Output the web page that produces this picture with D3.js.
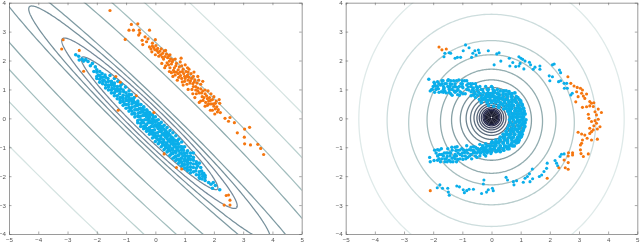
<!DOCTYPE html>
<html><head><meta charset="utf-8">
<script src="https://cdnjs.cloudflare.com/ajax/libs/d3/7.8.5/d3.min.js"></script>
<style>html,body{margin:0;padding:0;background:#fff}svg{display:block;filter:blur(.4px)}</style>
</head><body><svg id="c" width="640" height="245"></svg>
<script>
const xTicks=[-5,-4,-3,-2,-1,0,1,2,3,4,5];
const yTicks=[-4,-3,-2,-1,0,1,2,3,4];
// contours: [semi-major, semi-minor, colour]
const leftContours=[[3.25,.40,"#74899a"],[4.17,.53,"#74899a"],[5.75,.65,"#76909b"],[8,.78,"#7f9ba3"],[11,1.56,"#8eabae"],[14,2.16,"#a3bebe"],[18,2.9,"#bcd2d0"],[24,3.95,"#d6e4e2"]];
// contours: [rx, ry, cy, colour]
const rightContours=[[4.55,5,-.03,"#dfeae9"],[3.58,3.67,-.07,"#cddddd"],[2.84,2.84,-.15,"#b7cccc"],[2.21,2.25,-.05,"#a5bdbe"],[1.75,1.8,-.1,"#93adb0"],[1.37,1.39,-.06,"#86a0a5"],[1.07,1.1,-.03,"#7b929a"],[.87,.88,0,"#6f8490"],[.72,.73,0,"#677a88"],[.6,.6,0.01,"#5f6f80"],[.5,.5,.01,"#566478"],[.42,.42,.02,"#4d5870"],[.35,.35,.02,"#3f4763"],[.29,.29,.03,"#2c3050"],[.25,.25,.03,"#23264a"],[.21,.21,.03,"#1f2238"],[.17,.17,.03,"#1a1c30"],[.13,.13,.03,"#14162a"],[.09,.09,.03,"#14162a"],[.05,.05,.03,"#14162a"]];
const leftOrange=[[-1.55,3.73],[-.82,3.25],[-.6,3.27],[-.9,3.05],[-.75,3.05],[-.55,3.05],[-.2,3.05],[-.53,2.95],[-.57,2.88],[-1.03,2.73],[-.35,2.82],[-.3,2.65],[-.25,2.75],[-.45,2.7],[-.43,2.55],[-.2,2.47],[.0,2.72],[-.1,2.6],[-.05,2.45],[.02,2.52],[.05,2.35],[-.12,2.3],[-.15,2.4],[.0,2.2],[.1,2.28],[.2,2.4],[.25,2.25],[.3,2.33],[.12,2.15],[.38,2.22],[.42,2.1],[.28,2.05],[.4,1.92],[.48,1.98],[.55,1.88],[.6,2.02],[.35,1.82],[.5,1.75],[.65,1.75],[.72,1.9],[.88,2.08],[.78,1.68],[.9,1.82],[1.02,1.85],[.55,1.58],[.65,1.6],[.78,1.55],[.85,1.6],[.95,1.7],[1.05,1.62],[1.1,1.75],[1.1,1.5],[.8,1.42],[.9,1.38],[1.0,1.45],[1.15,1.42],[1.22,1.55],[1.3,1.45],[1.0,1.28],[1.08,1.18],[1.2,1.3],[1.28,1.2],[1.35,1.33],[1.25,1.0],[1.38,1.1],[1.48,1.32],[1.55,1.18],[1.45,.95],[1.55,1.02],[1.4,.85],[1.62,.95],[1.7,.85],[1.75,.78],[1.6,.75],[1.85,.72],[1.5,.55],[1.63,.62],[1.72,.55],[1.82,.6],[1.95,.65],[2.08,.6],[2.18,.65],[1.78,.45],[1.9,.5],[2.0,.42],[2.1,.4],[2.2,.52],[1.95,.28],[2.05,.33],[2.15,.3],[2.03,.15],[2.22,.2],[2.38,.0],[2.5,-.1],[2.55,.03],[2.7,-.15],[2.8,-.5],[3.05,-.37],[3.22,-.31],[3.04,-.65],[3.05,-.88],[3.25,-.92],[3.5,-.9],[3.6,-1.04],[3.7,-1.25],
[-.1,2.5],[-.02,2.38],[.08,2.42],[.15,2.32],[.18,2.2],[.24,2.12],[.33,2.14],[.46,2.16],[.52,2.06],[.45,1.85],[.58,1.96],[.62,1.66],[.7,1.82],[.72,1.6],[.82,1.78],[.86,1.48],[.92,1.62],[.97,1.55],[1.02,1.38],[1.08,1.45],[1.12,1.6],[1.18,1.22],[1.24,1.38],[1.3,1.1],[1.33,1.26],[1.42,1.22],[1.45,1.05],[1.5,.88],[1.58,.88],[1.66,.72],[1.7,.98],[1.78,.68],[1.82,.5],[1.88,.62],[1.98,.5],[2.05,.52],[2.12,.22],[.68,1.5],[.92,1.26],[1.12,1.32],[1.38,.98],
[.35,2.35],[.5,2.2],[.68,2.05],[.85,1.95],[1.15,1.7],[1.32,1.6],[1.45,1.45],[1.62,1.28],[1.8,.95],[2.0,.75],[1.9,.85],[.22,1.9],[.32,1.75],[.48,1.62],[.6,1.45],[.75,1.32],[.95,1.15],[1.12,1.0],[1.28,.85],[1.35,.72],[1.55,.6],[1.7,.42],[1.88,.28]];
const leftOrangeInner=[[-3.15,2.72],[-3.2,2.4],[-2.6,2.35],[-2.45,1.63],[-1.35,1.45],[-1.2,1.25],[-.65,.78],[-1.27,.28],[-.05,.2],[.3,-1.23],[.72,-1.7],[.9,-1.75],[2.5,-2.65],[2.42,-2.67],[2.55,-2.83],[2.35,-3],[2.55,-3]];
const leftBlue=[[-2.72,2.2],[-2.62,2.15],[-2.6,2.02],[-2.5,2.05],[-2.45,1.98],[-2.38,2.03],[-2.3,1.97],[-2.22,1.82],[-2.15,1.9],[-2.05,1.78],[-2.1,1.62],[-2.0,1.68],[-1.95,1.5],[-1.9,1.62],[-1.85,1.42],[-1.82,1.55],[-1.75,1.32],[-1.72,1.5],[-1.68,1.25],[-1.62,1.38],[-1.6,1.15],[-1.55,1.48],[-1.5,1.28],[-1.48,1.05],[-1.42,1.18],[-1.4,1.38],[-1.35,.95],[-1.3,1.1],[-1.28,1.28],[-1.22,.85],[-1.18,1.02],[-1.15,1.18],[-1.12,.72],[-1.08,.92],[-1.02,1.08],[-1.0,.62],[-.98,.78],[-.92,.48],[-.9,.95],[-.88,.65],[-.82,.82],[-.8,.38],[-.76,.55],[-.72,.72],[-.7,.3],[-.66,.44],[-.6,.6],[-.58,.18],[-.55,.34],[-.5,.48],[-.48,.08],[-.44,.22],[-.4,.38],[-.36,-.05],[-.33,.1],[-.28,.26],[-.25,-.15],[-.22,.0],[-.18,.16],[-.14,-.28],[-.11,-.12],[-.06,.04],[-.03,-.4],[0,-.24],[.04,-.08],[.07,-.5],[.1,-.36],[.14,-.2],[.18,-.62],[.2,-.46],[.25,-.3],[.28,-.74],[.3,-.58],[.35,-.42],[.38,-.85],[.4,-.7],[.45,-.52],[.48,-.96],[.5,-.8],[.55,-.65],[.58,-1.05],[.6,-.9],[.65,-.75],[.68,-1.15],[.7,-1.0],[.76,-.88],[.78,-1.28],[.8,-1.12],[.86,-.98],[.88,-1.38],[.9,-1.22],[.96,-1.1],[1.0,-1.48],[1.02,-1.32],[1.08,-1.2],[1.1,-1.6],[1.12,-1.42],[1.2,-1.3],[1.2,-1.55],[1.3,-1.45],[1.3,-1.7],[1.4,-1.5],[1.38,-1.82],[1.45,-1.65],[1.5,-1.95],[1.55,-1.7],[1.58,-1.82],[1.52,-2.08],[1.62,-2.0],[1.65,-1.9],[1.7,-2.15],[1.82,-2.22],[1.9,-2.28],[1.98,-2.22],[1.95,-2.42],[2.05,-2.32],[2.2,-2.47],
[-1.4,1.02],[-1.25,.98],[-1.1,.8],[-.95,.62],[-.8,.6],[-.65,.3],[-.52,.2],[-.4,.1],[-.28,-.05],[-.18,-.15],[-.06,-.28],[.05,-.3],[.15,-.45],[.24,-.55],[.34,-.64],[.44,-.78],[.54,-.88],[.64,-.98],[.74,-1.08],[.84,-1.2],[.94,-1.3],[1.06,-1.44],[-1.2,.72],[-1.05,.5],[-.85,.32],[-.72,.18],[-.58,.06],[-.45,-.08],[-.32,-.22],[-.2,-.38],[-.08,-.5],[.03,-.62],[.15,-.72],[.25,-.85],[.36,-.97],[.46,-1.08],[.58,-1.2],[.7,-1.3],[.82,-1.45],[.92,-1.58],[-.9,.82],[-.75,.62],[-.62,.48],[-.48,.32],[-.34,.18],[-.2,.05],[-.08,-.08],[.08,-.22],[.2,-.35],[.32,-.5],[.42,-.62],[.55,-.75],[.66,-.88],[.78,-.98],[.9,-1.1],[1.0,-1.22],[1.14,-1.34]];
const leftBlueDense=[[-2,1.38],[-2,1.6],[-2,1.45],[-1.9,1.25],[-1.9,1.48],[-1.9,1.35],[-1.8,1.2],[-1.8,1.42],[-1.8,1.3],[-1.7,1.05],[-1.7,1.15],[-1.7,1.42],[-1.6,.98],[-1.6,1.08],[-1.6,1.28],[-1.5,.88],[-1.5,.98],[-1.5,1.15],[-1.5,1.22],[-1.4,.78],[-1.4,.88],[-1.4,1.12],[-1.4,1.22],[-1.3,.68],[-1.3,.78],[-1.3,.95],[-1.3,1.02],[-1.2,.55],[-1.2,.62],[-1.2,.92],[-1.2,1.12],[-1.1,.45],[-1.1,.58],[-1.1,.68],[-1.1,.98],[-1,.35],[-1,.48],[-1,.7],[-1,.88],[-.9,.25],[-.9,.38],[-.9,.58],[-.9,.72],[-.8,.15],[-.8,.25],[-.8,.5],[-.8,.68],[-.7,.05],[-.7,.15],[-.7,.42],[-.7,.55],[-.6,-.08],[-.6,.08],[-.6,.3],[-.6,.45],[-.5,-.18],[-.5,-.05],[-.5,.22],[-.5,.35],[-.4,-.28],[-.4,-.15],[-.4,.12],[-.4,.28],[-.3,-.35],[-.3,-.22],[-.3,.05],[-.3,.18],[-.2,-.45],[-.2,-.32],[-.2,-.08],[-.2,.06],[-.1,-.55],[-.1,-.42],[-.1,-.18],[-.1,-.02],[0,-.65],[0,-.52],[0,-.22],[0,-.12],[.1,-.75],[.1,-.6],[.1,-.32],[.1,-.18],[.2,-.82],[.2,-.7],[.2,-.42],[.2,-.28],[.3,-.92],[.3,-.82],[.3,-.52],[.3,-.38],[.4,-1.02],[.4,-.9],[.4,-.6],[.4,-.48],[.5,-1.12],[.5,-1],[.5,-.72],[.5,-.58],[.6,-1.22],[.6,-1.1],[.6,-.82],[.6,-.68],[.7,-1.32],[.7,-1.18],[.7,-.9],[.7,-.78],[.8,-1.42],[.8,-1.28],[.8,-1],[.8,-.88],[.9,-1.5],[.9,-1.38],[.9,-1.08],[.9,-.98],[1,-1.6],[1,-1.42],[1,-1.2],[1.1,-1.7],[1.1,-1.52],[1.1,-1.3],[1.2,-1.78],[1.2,-1.68],[1.2,-1.42],[1.2,-1.2],[1.3,-1.85],[1.3,-1.58],[1.3,-1.35],[1.4,-1.95],[1.4,-1.72],[1.4,-1.58],[1.5,-2.05],[1.5,-1.85],[1.5,-1.55],[1.6,-2.1],[1.6,-1.92],[1.7,-1.98],[1.7,-2.05],
[-.6,-.15],[-.6,.55],[-.5,-.28],[-.5,.48],[-.4,-.36],[-.4,.4],[-.3,-.45],[-.3,.3],[-.2,-.55],[-.2,.2],[-.1,-.68],[-.1,.12],[0,-.8],[0,.05],[.1,-.88],[.1,-.05],[.2,-.98],[.2,-.14],[.3,-1.08],[.3,-.24],[.4,-1.16],[.4,-.32],[.5,-1.28],[.5,-.42],[.6,-1.38],[.6,-.5],[.7,-1.46],[.7,-.6],[.8,-1.55],[.8,-.72],[.9,-1.65],[.9,-.82],[1,-1.72],[1,-.98],[1.1,-1.8],[1.1,-1.12],[1.2,-1.88],[1.3,-1.2],
[-.55,.05],[-.45,-.15],[-.35,-.28],[-.25,-.38],[-.15,-.48],[-.05,-.6],[.05,-.7],[.15,-.82],[.25,-.92],[.35,-1.02],[.45,-1.12],[.55,-1.22],[.65,-1.35],[.75,-1.42],[.85,-1.5],[.95,-1.62],[1.05,-1.72],[-.45,.3],[-.25,.1],[-.05,-.08],[.15,-.28],[.35,-.55],[.55,-.68],[.75,-.78],[.95,-1.0]];
const rightOrange=[[-1.8,2.47],[-1.7,2.37],[-1.55,2.4],[-2.1,-2.5],[2.62,1.44],[2.72,1.21],[2.83,1.12],[2.94,1.07],[3.05,1.04],[3.12,.98],[2.92,.92],[3.09,.87],[3.26,.84],[2.97,.75],[3.15,.77],[3.2,.69],[2.89,.57],[3.12,.38],[3.26,.4],[3.37,.58],[3.43,.52],[3.51,.54],[3.37,.43],[3.49,.41],[3.66,.32],[3.55,.23],[3.77,.2],[3.32,.14],[3.34,0],[3.6,.12],[3.66,-.03],[3.55,-.08],[3.43,-.11],[3.6,-.17],[3.51,-.26],[3.72,-.29],[3.63,-.37],[3.37,-.34],[3.49,-.4],[3.43,-.46],[3.37,-.52],[2.97,-.48],[3.09,-.54],[3.2,-.58],[3.28,-.69],[3.43,-.75],[3.63,-.72],[3.12,-.75],[3.09,-.86],[3.05,-.92],[3.05,-1.09],[3.07,-1.22],[3.32,-1.23],[3.15,-1.32],[2.78,-1.19],[2.78,-1.27],[2.64,-1.19],[2.63,-1.3],[2.49,-1.44],[2.63,-1.53],[2.53,-1.71],[2.63,-1.76],[2.31,-1.71],[1.91,-2.07]];
const rightBlueOuter=[[-1.45,2.27],[-1.6,2.25],[-1.63,2.13],[-1.4,2.25],[-1.25,2.08],[-1.17,2.11],[-1.06,2.11],[-.97,2.34],[-.89,2.54],[-.77,2.44],[-.68,2.11],[-.64,2.25],[-.57,2.34],[-.45,2.36],[-.53,2.19],[-.42,2.27],[-.11,2.34],[.09,1.85],[.18,2.23],[.26,2.27],[.32,1.98],[.61,2.08],[.63,1.81],[.73,1.93],[.83,1.79],[.94,1.81],[.94,2.13],[1.01,2.08],[1.07,2.04],[.98,1.9],[1.15,1.98],[1.11,1.71],[1.3,1.94],[1.34,1.85],[1.43,1.7],[1.49,1.77],[1.66,1.81],[1.66,1.7],[2.09,1.85],[2.15,1.88],[1.98,1.47],[2.09,1.44],[2,1.3],[2.33,1.67],[2.37,1.58],[2.3,1.27],[2.37,1.3],[2.49,1.21],[2.58,1.21],[2.5,1.04],[2.6,1.04],[2.72,.81],[2.77,.87],[-1.86,-2.4],[-1.77,-2.3],[-1.68,-2.42],[-1.5,-2.42],[-1.48,-2.55],[-1.45,-2.66],[-1.19,-2.34],[-1.1,-2.37],[-.97,-2.47],[-.93,-2.57],[-.85,-2.5],[-.77,-2.45],[-.62,-2.45],[-.34,-2.6],[-.17,-2.55],[-.11,-2.47],[.03,-2.42],[.06,-2.5],[-.26,-2.13],[-.28,-2.27],[.5,-2.04],[.55,-2.13],[.75,-2.19],[.77,-2.3],[.86,-2.16],[1.09,-2.21],[1.23,-2.01],[1.3,-1.92],[1.15,-2.07],[1.32,-2.19],[1.41,-2.09],[1.4,-1.75],[1.64,-2.01],[1.72,-1.96],[1.89,-1.73],[1.91,-1.55],[1.8,-1.84],[2.18,-1.46],[2.23,-1.55],[2.27,-1.64],[2.35,-1.32],[2.4,-1.24],[2.49,-1.23]];
const rightBlueUpperArm=[[-2.15,1.35],[-2.1,.95],[-2.03,1.0],[-1.97,1.25],[-1.92,1.12],[-1.85,1.27],[-1.82,1.02],[-1.75,1.15],[-1.72,.92],[-1.66,1.3],[-1.62,1.05],[-1.55,.88],[-1.55,1.2],[-1.48,1.34],[-1.45,1.02],[-1.4,.85],[-1.36,1.18],[-1.3,1.3],[-1.28,.95],[-1.2,1.08],[-1.16,.82],[-1.12,1.33],[-1.08,.92],[-1.05,1.2],[-.98,1.06],[-.92,1.3],[-.9,.85],[-.85,1.15],[-.78,.98],[-.7,.78],[-.72,1.2],[-.62,1.05],[-.56,.85],[-.55,.72],[-.48,1.05],[-.42,.65],[-.38,.85],[-.3,.98],[-.25,.7],[-.18,.85],[-.12,.62],[-.1,1.0],[-.04,.78],[.02,1.08],[.05,.6],[.1,.9],[.16,.72],[.2,1.0],[.28,.82],[-1.7,1.2],[-1.5,1.1],[-1.3,1.08],[-1.1,1.1],[-.8,1.08],[-.6,.95],[-1.9,1.0],[-1.6,.95],[-1.2,.95],[-.98,.85],[-.7,.92],[-.35,.72],[-.45,.92],
[-1.7,1.3],[-1.5,1.3],[-1.4,1.3],[-1.2,1.3],[-1,1.3],[-.85,1.3],[-1.95,1.2],[-1.8,1.2],[-1.6,1.2],[-1.42,1.2],[-1.25,1.2],[-1,1.2],[-.8,1.2],[-.65,1.2],[-.55,1.2],[-2,1.1],[-1.85,1.1],[-1.65,1.1],[-1.42,1.1],[-1.25,1.1],[-1,1.1],[-.7,1.1],[-.52,1.1],[-.4,1.1],[-.2,1.1],[0,1.1],[-2.05,1],[-1.65,1],[-1.45,1],[-1.35,1],[-1.15,1],[-.85,1],[-.65,1],[-.5,1],[-.35,1],[-.15,1],[.05,1],[-1.95,.9],[-1.8,.9],[-1.65,.9],[-1.45,.9],[-1.25,.9],[-1.05,.9],[-.6,.9],[-.45,.9],[-.28,.9],[-.12,.9],[.05,.9],[-1.35,.8],[-1.1,.8],[-.62,.8],[-.48,.8],[-.3,.8],[-.12,.8]];
const rightBlueLowerArm=[[-2.12,-1.35],[-2.1,-1.5],[-1.97,-1.46],[-1.85,-1.45],[-1.95,-1.1],[-1.85,-1.08],[-1.78,-1.25],[-1.72,-1.05],[-1.7,-1.4],[-1.62,-1.2],[-1.6,-1.5],[-1.52,-1.32],[-1.5,-1.05],[-1.45,-1.45],[-1.4,-1.2],[-1.36,-1.0],[-1.32,-1.5],[-1.28,-1.32],[-1.22,-1.12],[-1.18,-.98],[-1.15,-1.42],[-1.08,-1.25],[-1.02,-1.05],[-.98,-1.42],[-.92,-1.18],[-.85,-.95],[-.82,-1.35],[-.76,-1.08],[-.7,-1.25],[-.62,-.98],[-.58,-1.18],[-.5,-1.35],[-.48,-1.05],[-.4,-.9],[-.38,-1.2],[-.3,-1.02],[-.25,-1.25],[-.2,-.88],[-.14,-1.1],[-.08,-.95],[-.02,-1.22],[.02,-.8],[.08,-1.05],[.15,-.92],[.25,-1.05],[-1.7,-1.25],[-1.5,-1.2],[-1.25,-1.25],[-1.1,-1.1],[-1.55,-1.4],[-1.35,-1.38],[-.9,-1.3],[-.7,-1.1],[-.5,-1.2],[-.3,-1.15],[-.1,-1.15],
[-1.25,-1],[-.7,-1],[-.55,-1],[-.2,-1],[-1.8,-1.1],[-1.35,-1.1],[-1.2,-1.1],[-.95,-1.1],[-.85,-1.1],[-.62,-1.1],[-.42,-1.1],[-.25,-1.1],[-1.9,-1.2],[-1.55,-1.2],[-1.42,-1.2],[-1.15,-1.2],[-1,-1.2],[-.82,-1.2],[-.62,-1.2],[-.38,-1.2],[-.15,-1.2],[-1.85,-1.3],[-1.65,-1.3],[-1.42,-1.3],[-1.2,-1.3],[-1,-1.3],[-.75,-1.3],[-.55,-1.3],[-.4,-1.3],[-.2,-1.3],[-1.8,-1.4],[-1.6,-1.4],[-1.25,-1.4],[-1.08,-1.4],[-.88,-1.4],[-.68,-1.4],[-1.75,-1.5],[-1.52,-1.5],[-1.4,-1.5],[-1.2,-1.5]];
const rightBlueCrescent=[[-.35,.55],[-.1,.45],[.05,.78],[.08,.42],[.18,.6],[.22,.88],[.25,.38],[.32,.7],[.35,.5],[.42,.95],[.42,.33],[.48,.65],[.5,.82],[.52,.45],[.6,.92],[.6,.58],[.62,.28],[.68,.75],[.7,.42],[.74,.15],[.8,.88],[.8,.6],[.82,.28],[.86,.04],[.9,.72],[.92,.45],[.95,.15],[.98,-.08],[1.0,.6],[1.02,.32],[1.08,.02],[1.05,.48],[1.1,.18],[1.12,-.12],[1.14,-.28],[1.05,-.2],[.95,-.3],[.85,-.12],[1.08,-.42],[.98,-.5],[.85,-.38],[.72,-.22],[.7,.02],[1.02,-.62],[.9,-.68],[.78,-.55],[.66,-.42],[.92,-.82],[.8,-.8],[.68,-.68],[.55,-.55],[.78,-.95],[.66,-.92],[.55,-.8],[.42,-.68],[.6,-1.05],[.5,-.98],[.4,-.85],[.28,-.75],[.42,-1.1],[.3,-1.0],[.18,-.82],[.2,-1.12],[.1,-.95],[.02,-1.08],
[.1,.95],[.3,.95],[.5,.95],[-.05,.85],[.05,.85],[.2,.85],[.4,.85],[.6,.85],[.7,.85],[-.2,.75],[-.1,.75],[0,.75],[.1,.75],[.25,.75],[.4,.75],[.55,.75],[.7,.75],[.85,.75],[-.3,.65],[-.2,.65],[-.05,.65],[.1,.65],[.25,.65],[.4,.65],[.55,.65],[.7,.65],[.8,.65],[.95,.65],[-.15,.55],[0,.55],[.15,.55],[.3,.55],[.45,.55],[.6,.55],[.7,.55],[.85,.55],[1,.55],[.25,.45],[.4,.45],[.55,.45],[.65,.45],[.75,.45],[.9,.45],[1.05,.45],[.5,.35],[.6,.35],[.7,.35],[.85,.35],[.95,.35],[1.1,.35],[.55,.25],[.65,.25],[.8,.25],[.9,.25],[1,.25],[1.12,.25],[.6,.15],[.7,.15],[.8,.15],[.9,.15],[1.05,.15],[1.15,.15],[.65,.05],[.78,.05],[.9,.05],[1,.05],[1.1,.05],[.62,-.05],[.75,-.05],[.9,-.05],[1.05,-.05],[1.18,-.05],[.65,-.15],[.8,-.15],[.95,-.15],[1.08,-.15],[1.15,-.15],[.6,-.25],[.75,-.25],[.9,-.25],[1,-.25],[1.12,-.25],[.55,-.35],[.7,-.35],[.8,-.35],[.95,-.35],[1.1,-.35],[.5,-.45],[.65,-.45],[.75,-.45],[.9,-.45],[1.05,-.45],[.4,-.55],[.5,-.55],[.65,-.55],[.8,-.55],[.95,-.55],[1.05,-.55],[.3,-.65],[.45,-.65],[.6,-.65],[.75,-.65],[.9,-.65],[1,-.65],[.15,-.75],[.3,-.75],[.45,-.75],[.55,-.75],[.7,-.75],[.85,-.75],[.95,-.75],[0,-.85],[.1,-.85],[.25,-.85],[.4,-.85],[.55,-.85],[.7,-.85],[.85,-.85],[-.3,-.95],[-.15,-.95],[0,-.95],[.15,-.95],[.3,-.95],[.45,-.95],[.6,-.95],[.72,-.95],[-.5,-1.05],[-.35,-1.05],[-.2,-1.05],[-.05,-1.05],[.1,-1.05],[.25,-1.05],[.4,-1.05],[.55,-1.05],[-.6,-1.15],[-.45,-1.15],[-.3,-1.15],[-.2,-1.15],[0,-1.15],[.15,-1.15],[.3,-1.15]];
const svg=d3.select("#c");
const T=d3.scaleLinear; const Y=T().domain([-4,4]).range([234,2.7]);
function panel(x0,x1,contourPath,groups,name){
  const X=T().domain([-5,5]).range([x0,x1]);
  const g=svg.append("g");
  const clip="clip"+name;
  svg.append("clipPath").attr("id",clip).append("rect").attr("x",x0).attr("y",2.7).attr("width",x1-x0).attr("height",231.3);
  const cg=g.append("g").attr("clip-path",`url(#${clip})`);
  const line=d3.line().x(d=>X(d[0])).y(d=>Y(d[1])).curve(d3.curveLinearClosed);
  contourPath.forEach(c=>cg.append("path").attr("d",line(c.pts)).attr("fill","none").attr("stroke",c.color).attr("stroke-width",c.w));
  groups.forEach(gr=>cg.append("g").selectAll("circle").data(gr.data).join("circle").attr("cx",d=>X(d[0])).attr("cy",d=>Y(d[1])).attr("r",gr.r).attr("fill",gr.color));
  const style=a=>{a.select(".domain").attr("stroke","#555").attr("stroke-width",.6);a.selectAll("line").attr("stroke","#555").attr("stroke-width",.5);a.selectAll("text").attr("fill","#555").attr("font-family","Liberation Sans").attr("font-size",6.2);};
  const fmt=d3.format("d");
  g.append("g").attr("transform","translate(0,234)").call(d3.axisBottom(X).tickValues(xTicks).tickFormat(fmt).tickSizeInner(-2.5).tickSizeOuter(0).tickPadding(4)).call(style);
  g.append("g").attr("transform",`translate(0,2.7)`).call(d3.axisTop(X).tickValues(xTicks).tickFormat("").tickSizeInner(-2.5).tickSizeOuter(0)).call(style);
  g.append("g").attr("transform",`translate(${x0},0)`).call(d3.axisLeft(Y).tickValues(yTicks).tickFormat(fmt).tickSizeInner(-2.5).tickSizeOuter(0).tickPadding(3)).call(style);
  g.append("g").attr("transform",`translate(${x1},0)`).call(d3.axisRight(Y).tickValues(yTicks).tickFormat("").tickSizeInner(-2.5).tickSizeOuter(0)).call(style);
}
const angles=d3.range(0,360,1).map(d=>d*Math.PI/180);
const leftRot=-44.5*Math.PI/180;
const lc=leftContours.map(([a,b,color])=>({color,w:1.25,pts:angles.map(t=>{const u=a*Math.cos(t),v=b*Math.sin(t);return[-.2+u*Math.cos(leftRot)-v*Math.sin(leftRot),-.17+u*Math.sin(leftRot)+v*Math.cos(leftRot)];})}));
const rc=rightContours.map(([rx,ry,cy,color])=>({color,w:1.3,pts:angles.map(t=>[rx*Math.cos(t),cy+ry*Math.sin(t)])}));
const BL="#0aaeea",OR="#f5760f";
panel(9,301.7,lc,[{data:leftOrange,color:OR,r:1.6},{data:leftBlue,color:BL,r:1.8},{data:leftBlueDense,color:BL,r:1.8},{data:leftOrangeInner,color:OR,r:1.55}],"L");
panel(345.7,637.3,rc,[{data:rightBlueOuter,color:BL,r:1.55},{data:rightBlueUpperArm,color:BL,r:1.7},{data:rightBlueLowerArm,color:BL,r:1.7},{data:rightBlueCrescent,color:BL,r:1.9},{data:rightOrange,color:OR,r:1.55}],"R");
</script></body></html>
